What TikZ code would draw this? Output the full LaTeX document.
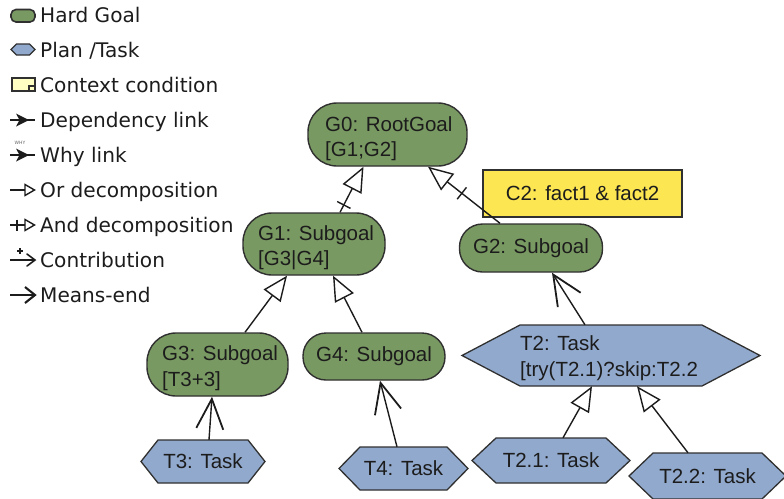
\documentclass[tikz,border=0pt]{standalone}
\usepackage{fontspec}
\setmainfont{Liberation Sans}
\newfontfamily\legendfont{DejaVu Sans}
\usetikzlibrary{arrows.meta,decorations.markings}

\definecolor{goalgreen}{RGB}{121,153,98}
\definecolor{taskblue}{RGB}{145,169,205}
\definecolor{condyellow}{RGB}{252,230,82}
\definecolor{condpale}{RGB}{255,255,196}
\definecolor{edge}{RGB}{48,48,48}
\definecolor{ink}{RGB}{28,28,28}

% hexagonal plan/task: name, centre x, centre y, flat width, height, point depth, text
\newcommand\tasknode[7]{%
  \filldraw[taskshape] ({#2-#4/2-#6},#3) -- ({#2-#4/2},{#3-#5/2}) -- ({#2+#4/2},{#3-#5/2})
    -- ({#2+#4/2+#6},#3) -- ({#2+#4/2},{#3+#5/2}) -- ({#2-#4/2},{#3+#5/2}) -- cycle;
  \node[tasktext, minimum width=#4pt, minimum height=#5pt] (#1) at (#2,#3) {#7};
}

\begin{document}
\begin{tikzpicture}[x=1pt,y=-1pt,
  nodefont/.style={font=\fontsize{20.5}{25}\selectfont, text=ink},
  goal/.style={nodefont, draw=edge, fill=goalgreen, line width=1.4pt,
    rounded corners=23pt, inner sep=0pt},
  tallgoal/.style={goal, rounded corners=29pt},
  goaltext/.style={nodefont, inner sep=0pt},
  cond/.style={nodefont, draw=edge, fill=condyellow, line width=1.3pt, inner sep=0pt},
  taskshape/.style={draw=edge, fill=taskblue, line width=1.3pt},
  tasktext/.style={nodefont, inner sep=0pt},
  link/.style={draw=ink, line width=1.4pt},
  orlink/.style={link, -{Triangle[fill=white, length=25pt, width=21pt, line width=1.4pt]}},
  andlink/.style={orlink, postaction={decorate, decoration={markings,
    mark=at position -43pt with {\draw[-, draw=ink, line width=1.4pt] (0,-7.5pt) -- (0,7.5pt);}}}},
  meansend/.style={link, -{Straight Barb[length=30pt, width=27pt, line width=1.8pt]}},
  legendtext/.style={font=\legendfont\fontsize{20.1}{24}\selectfont, text=ink,
    inner sep=0pt, anchor=base west},
  icon/.style={draw=ink, line width=1.6pt},
]
\useasboundingbox (0,0) rectangle (784,498);

% ---------- legend ----------
\filldraw[draw=edge, fill=goalgreen, line width=1.6pt, rounded corners=5pt] (11,9.5) rectangle (35,22);
\filldraw[draw=edge, fill=taskblue, line width=1.3pt]
  (11,49.5) -- (16.5,44) -- (29.5,44) -- (35,49.5) -- (29.5,55) -- (16.5,55) -- cycle;
\filldraw[draw=edge, fill=condpale, line width=1.5pt] (12,78) rectangle (35,91);
\draw[draw=edge, line width=1.2pt] (29,91) -- (29,86) -- (35,86);

\draw[icon] (10,120) -- (35,120);
\fill[ink] (16,113.5) -- (29,120) -- (16,126.5) -- (19.5,120) -- cycle;

\draw[icon] (10,155) -- (35,155);
\fill[ink] (16,148.5) -- (29,155) -- (16,161.5) -- (19.5,155) -- cycle;
\node[font=\legendfont\fontsize{4.5}{5}\selectfont, text=ink!70, inner sep=0pt] (whytag) at (20,143) {WHY};

\draw[icon] (10,190) -- (25,190);
\filldraw[icon, fill=white, line width=1.4pt] (25,184.5) -- (34.5,190) -- (25,195.5) -- cycle;

\draw[icon] (10,225) -- (25,225);
\draw[icon, line width=1.4pt] (17,219.5) -- (17,230.5);
\filldraw[icon, fill=white, line width=1.4pt] (25,219.5) -- (34.5,225) -- (25,230.5) -- cycle;

\draw[icon] (10,260) -- (35,260);
\draw[icon, line cap=round] (27,254) -- (35,260) -- (27,266);
\draw[icon, line width=1.1pt] (17,251) -- (23,251) (20,248) -- (20,254);

\draw[icon] (10,295) -- (34,295);
\draw[icon, line width=2.1pt] (25,287) -- (35,295) -- (25,303);

\node[legendtext] (leg1) at (40,22) {Hard Goal};
\node[legendtext] (leg2) at (40,57) {Plan /Task};
\node[legendtext] (leg3) at (40,92) {Context condition};
\node[legendtext] (leg4) at (40,127) {Dependency link};
\node[legendtext] (leg5) at (40,162) {Why link};
\node[legendtext] (leg6) at (40,197) {Or decomposition};
\node[legendtext] (leg7) at (40,232) {And decomposition};
\node[legendtext] (leg8) at (40,267) {Contribution};
\node[legendtext] (leg9) at (40,302) {Means-end};

% ---------- goals ----------
\node[tallgoal, minimum width=159pt, minimum height=63pt] (g0) at (387.5,134.5) {};
\node[goaltext, anchor=base west] (g0a) at (325,131) {G0: RootGoal};
\node[goaltext, anchor=base west] (g0b) at (325,156) {[G1;G2]};

\node[tallgoal, minimum width=142pt, minimum height=62pt] (g1) at (314,244) {};
\node[goaltext, anchor=base west] (g1a) at (258,240) {G1: Subgoal};
\node[goaltext, anchor=base west] (g1b) at (258,265) {[G3|G4]};

\node[goal, minimum width=143pt, minimum height=48pt] (g2) at (531,248) {G2: Subgoal};

\node[cond, minimum width=199pt, minimum height=47pt] (c2) at (582.5,193.5) {C2: fact1 \& fact2};

\node[tallgoal, minimum width=141pt, minimum height=63pt] (g3) at (217.5,364.5) {};
\node[goaltext, anchor=base west] (g3a) at (162,360) {G3: Subgoal};
\node[goaltext, anchor=base west] (g3b) at (162,386) {[T3+3]};

\node[goal, minimum width=142pt, minimum height=47pt] (g4) at (374,356.5) {G4: Subgoal};

% ---------- plans / tasks ----------
\tasknode{t2}{611}{355.5}{182}{61}{58}{}
\node[goaltext, anchor=base west] (t2a) at (520,350) {T2: Task};
\node[goaltext, anchor=base west] (t2b) at (520,376) {[try(T2.1)?skip:T2.2};

\tasknode{t21}{551}{460.5}{110}{45}{24}{T2.1: Task}
\tasknode{t22}{707.5}{476}{109}{46}{24}{T2.2: Task}
\tasknode{t3}{203}{461.5}{90}{43}{17}{T3: Task}
\tasknode{t4}{403.5}{468.5}{87}{43}{21}{T4: Task}

% ---------- links ----------
\draw[andlink] ([xshift=26pt]g1.north) -- ([xshift=-24pt]g0.south);
\draw[andlink] ([xshift=-31pt]g2.north) -- ([xshift=40.5pt]g0.south);
\draw[orlink] ([xshift=27.5pt]g3.north) -- ([xshift=-27pt]g1.south);
\draw[orlink] ([xshift=-12pt]g4.north) -- ([xshift=19pt]g1.south);
\draw[meansend] ([xshift=6pt]t3.north) -- ([xshift=-5.5pt]g3.south);
\draw[meansend] ([xshift=-6.5pt]t4.north) -- ([xshift=6pt]g4.south);
\draw[meansend] ([xshift=-26pt]t2.north) -- ([xshift=21pt]g2.south);
\draw[orlink] ([xshift=12pt]t21.north) -- ([xshift=-19pt]t2.south);
\draw[orlink] ([xshift=-19.5pt]t22.north) -- ([xshift=26pt]t2.south);
\end{tikzpicture}
\end{document}
